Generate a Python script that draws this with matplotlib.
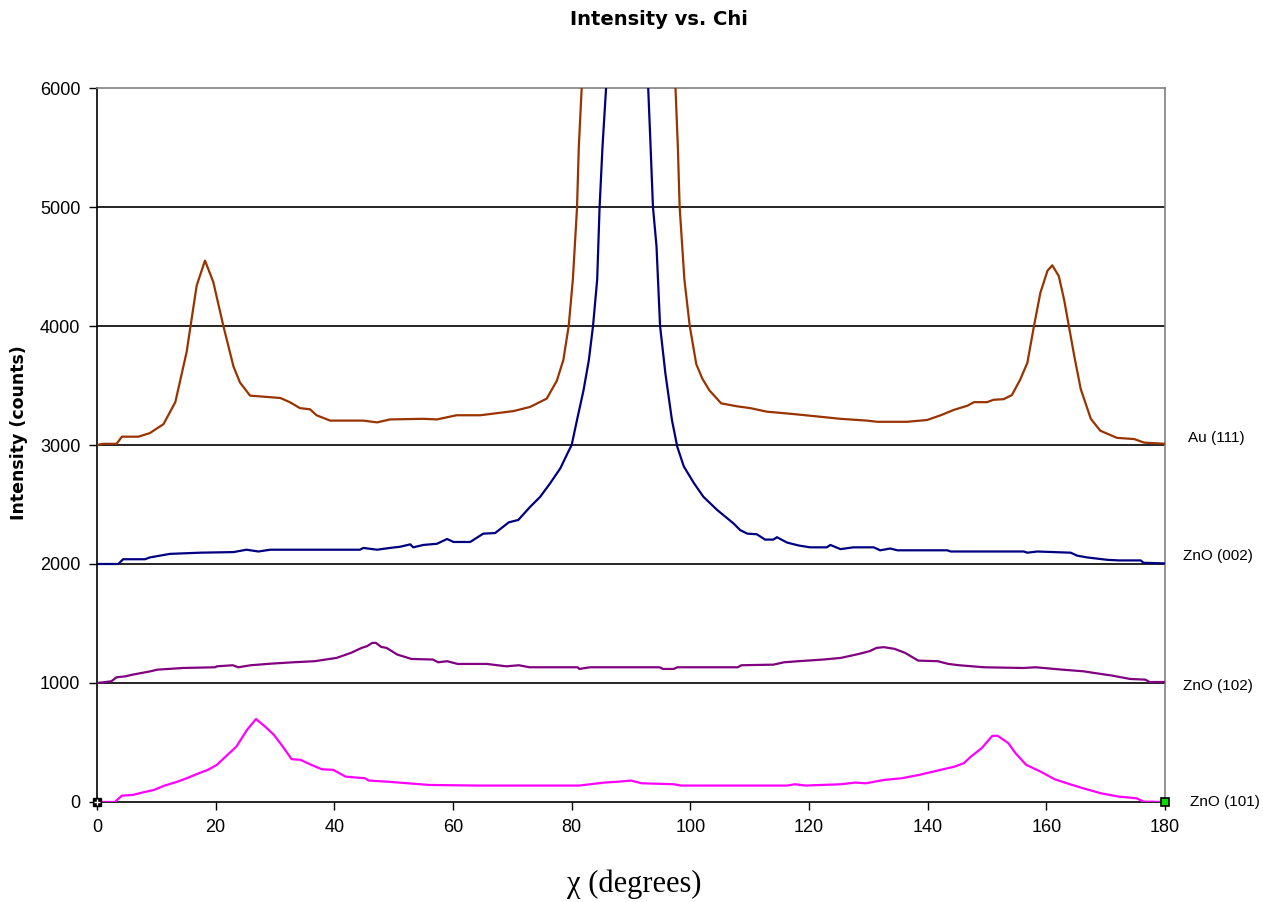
import matplotlib
matplotlib.use("Agg")
import matplotlib.pyplot as plt

# ── Pole-figure chi scans (offset by 1000 counts per reflection) ─────────────
au111_chi = [0.0, 1.1, 3.3, 4.2, 7.0, 8.9, 11.2, 13.2, 15.1, 16.8,
             18.2, 19.6, 21.3, 23.0, 24.1, 25.8, 30.9, 32.5, 34.2, 35.9,
             37.0, 39.3, 44.9, 47.2, 49.4, 55.0, 57.3, 60.6, 64.6, 70.2,
             73.0, 75.8, 77.5, 78.6, 79.5, 80.2, 80.9, 81.2, 81.7, 83.0,
             89.0, 96.0, 97.5, 97.9, 98.2, 99.0, 99.9, 101.0, 102.0, 103.2,
             105.2, 107.9, 110.1, 112.9, 115.2, 117.4, 121.4, 125.3, 129.8, 131.5,
             136.5, 139.9, 142.2, 144.4, 146.7, 147.8, 150.0, 151.1, 152.8, 154.2,
             155.6, 156.8, 157.9, 159.0, 160.2, 161.0, 162.1, 163.0, 163.8, 164.7,
             165.8, 167.5, 169.1, 171.9, 174.8, 176.5, 180.0]
au111_counts = [3000, 3010, 3010, 3070, 3070, 3100, 3175, 3360, 3780, 4340,
                4550, 4370, 4000, 3660, 3525, 3415, 3395, 3360, 3310, 3300,
                3250, 3205, 3205, 3190, 3215, 3220, 3215, 3250, 3250, 3285,
                3320, 3390, 3540, 3715, 4000, 4390, 4990, 5500, 6010, 8000,
                20000, 8000, 6000, 5500, 5000, 4390, 4000, 3680, 3560, 3460,
                3350, 3325, 3310, 3280, 3270, 3260, 3240, 3220, 3205, 3195,
                3195, 3210, 3250, 3295, 3330, 3360, 3360, 3380, 3385, 3420,
                3550, 3690, 3995, 4280, 4465, 4510, 4420, 4220, 4000, 3750,
                3470, 3220, 3120, 3060, 3050, 3020, 3010]

zno002_chi = [0.0, 1.35, 3.6, 4.4, 8.1, 8.9, 12.3, 17.4, 23.0, 25.2,
              27.2, 29.2, 44.3, 44.9, 47.2, 49.4, 51.1, 52.8, 53.3, 55.0,
              57.3, 59.0, 60.1, 62.9, 65.1, 67.1, 69.4, 71.0, 73.0, 74.7,
              76.4, 78.1, 79.3, 80.0, 80.9, 82.0, 82.9, 83.6, 84.3, 84.7,
              85.2, 85.8, 87.0, 89.0, 91.5, 92.9, 93.3, 93.7, 94.3, 94.9,
              95.8, 96.9, 97.8, 98.9, 100.6, 102.2, 104.5, 107.3, 108.4, 109.6,
              111.2, 112.6, 114.0, 114.6, 116.3, 118.3, 120.2, 123.0, 123.6, 125.3,
              127.5, 130.9, 132.0, 133.7, 134.9, 143.3, 143.9, 156.2, 156.8, 158.5,
              164.1, 165.2, 166.9, 170.3, 172.2, 175.9, 176.4, 180.0]
zno002_counts = [2000, 2000, 2000, 2040, 2040, 2055, 2085, 2095, 2100, 2120,
                 2105, 2120, 2120, 2135, 2120, 2135, 2145, 2165, 2140, 2160,
                 2170, 2210, 2185, 2185, 2255, 2260, 2350, 2370, 2480, 2565,
                 2680, 2805, 2930, 3000, 3210, 3460, 3715, 4000, 4390, 4990,
                 5510, 6000, 9000, 20000, 9000, 6000, 5510, 5000, 4670, 4000,
                 3600, 3210, 2985, 2820, 2680, 2565, 2455, 2340, 2285, 2255,
                 2250, 2205, 2205, 2225, 2180, 2155, 2140, 2140, 2160, 2125,
                 2140, 2140, 2115, 2130, 2115, 2115, 2105, 2105, 2095, 2105,
                 2095, 2070, 2055, 2035, 2030, 2030, 2010, 2005]

zno102_chi = [0.0, 0.9, 2.4, 3.3, 4.8, 6.0, 9.0, 10.2, 14.5, 19.9,
              20.2, 22.9, 23.8, 25.9, 29.5, 33.1, 36.7, 39.2, 40.4, 42.8,
              44.6, 45.5, 46.4, 47.0, 47.9, 48.8, 50.6, 53.0, 56.6, 57.5,
              59.0, 60.8, 65.7, 69.0, 71.1, 72.9, 81.0, 81.3, 83.1, 94.8,
              95.4, 97.2, 97.8, 108.0, 108.6, 114.0, 115.8, 118.2, 122.4, 125.4,
              128.4, 130.2, 131.4, 132.6, 134.4, 136.2, 138.4, 141.7, 143.5, 145.3,
              149.5, 156.1, 158.2, 162.7, 166.3, 168.1, 171.1, 174.1, 176.7, 177.4,
              180.0]
zno102_counts = [1000, 1005, 1014, 1048, 1056, 1070, 1098, 1112, 1126, 1132,
                 1140, 1149, 1132, 1149, 1163, 1174, 1183, 1202, 1211, 1253,
                 1295, 1309, 1337, 1337, 1303, 1295, 1239, 1202, 1197, 1174,
                 1183, 1160, 1160, 1140, 1149, 1132, 1132, 1118, 1132, 1132,
                 1118, 1118, 1132, 1132, 1149, 1154, 1174, 1183, 1197, 1211,
                 1244, 1267, 1295, 1301, 1287, 1253, 1188, 1183, 1160, 1149,
                 1132, 1126, 1132, 1112, 1098, 1084, 1062, 1034, 1028, 1008,
                 1008]

zno101_chi = [0.0, 3.0, 4.2, 6.0, 7.8, 9.6, 11.4, 13.3, 15.1, 16.9,
              18.7, 20.2, 21.7, 23.5, 25.3, 26.8, 28.3, 29.8, 31.3, 32.8,
              34.3, 36.1, 37.9, 39.8, 41.9, 45.2, 45.8, 48.8, 52.4, 56.0,
              63.9, 81.3, 85.5, 88.0, 90.0, 91.8, 97.2, 98.4, 116.4, 117.6,
              119.4, 125.4, 127.8, 129.6, 132.6, 135.6, 138.6, 141.0, 144.6, 146.1,
              147.3, 149.1, 150.9, 151.8, 153.6, 154.8, 156.6, 159.0, 161.4, 163.8,
              166.2, 169.2, 172.2, 175.2, 176.4, 180.0]
zno101_counts = [0, 0, 53, 59, 81, 101, 138, 166, 199, 236,
                 270, 312, 382, 466, 607, 697, 635, 565, 466, 360,
                 354, 312, 275, 270, 213, 199, 180, 171, 157, 143,
                 138, 138, 163, 171, 180, 157, 149, 138, 138, 149,
                 138, 149, 163, 157, 185, 199, 228, 256, 298, 326,
                 382, 452, 556, 556, 494, 410, 312, 256, 191, 152,
                 115, 73, 45, 31, 3, 0]

series_names = ["Au (111)", "ZnO (002)", "ZnO (102)", "ZnO (101)"]
series_colors = ["#993300", "#000080", "#800080", "#FF00FF"]
label_levels = [3060, 2070, 975, 0]
label_chi = [183.8, 183.0, 183.0, 184.2]

x_ticks = list(range(0, 181, 20))
y_ticks = list(range(0, 6001, 1000))

# ── Figure ───────────────────────────────────────────────────────────────────
fig = plt.figure(figsize=(12.63, 9.02), dpi=100)
ax = fig.add_axes([0.0768, 0.1109, 0.8456, 0.7915])

for y in y_ticks[1:-1]:
    ax.axhline(y, color="black", lw=1.2, zorder=1)

curves = [(au111_chi, au111_counts), (zno002_chi, zno002_counts),
          (zno102_chi, zno102_counts), (zno101_chi, zno101_counts)]
for (chi, counts), col in zip(curves, series_colors):
    ax.plot(chi, counts, color=col, lw=1.6, zorder=3)

# selection handles left on the first/last ZnO (101) points
ax.plot([zno101_chi[0]], [zno101_counts[0]], marker="s", ms=6, color="black",
        clip_on=False, zorder=5)
ax.plot([zno101_chi[0]], [zno101_counts[0]], marker="+", ms=5, mew=1,
        color="white", clip_on=False, zorder=6)
ax.plot([zno101_chi[-1]], [zno101_counts[-1]], marker="s", ms=6, mfc="#00DD00",
        mec="black", mew=1.2, clip_on=False, zorder=5)

for name, level, xpos in zip(series_names, label_levels, label_chi):
    ax.text(xpos, level, name, ha="left", va="center", fontsize=11,
            family="Liberation Sans", clip_on=False)

ax.set_xlim(0, 180)
ax.set_ylim(0, 6000)
ax.set_xticks(x_ticks)
ax.set_yticks(y_ticks)
ax.tick_params(direction="out", length=6, width=1, colors="black",
               labelsize=13, pad=6)
for lab in ax.get_xticklabels() + ax.get_yticklabels():
    lab.set_family("Liberation Sans")

for side in ("left", "bottom"):
    ax.spines[side].set_color("black")
    ax.spines[side].set_linewidth(1.2)
for side in ("top", "right"):
    ax.spines[side].set_color("#808080")
    ax.spines[side].set_linewidth(1.2)

ax.set_ylabel("Intensity (counts)", fontsize=12.5, fontweight="bold",
              family="DejaVu Sans")
ax.yaxis.set_label_coords(-0.065, 0.518)
ax.set_xlabel("\u03c7 (degrees)", fontsize=22, family="Liberation Serif")
ax.xaxis.set_label_coords(0.503, -0.095)
fig.text(0.522, 0.978, "Intensity vs. Chi", ha="center", va="center",
         fontsize=14, fontweight="bold", family="DejaVu Sans")

fig.savefig("out.png", dpi=100, facecolor="white")
